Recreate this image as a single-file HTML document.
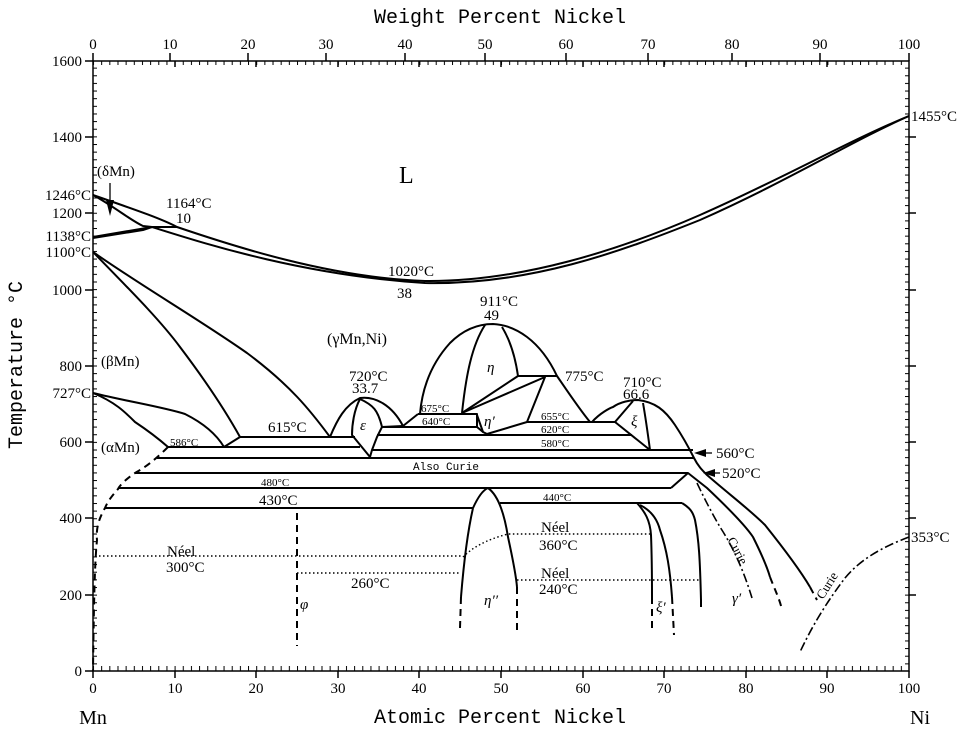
<!DOCTYPE html>
<html><head><meta charset="utf-8"><style>
html,body{margin:0;padding:0;background:#fff;}
svg{display:block;}
.s{font-family:"Liberation Serif",serif;fill:#000;}
.m{font-family:"Liberation Mono",monospace;fill:#000;}
</style></head><body>
<svg width="971" height="735" viewBox="0 0 971 735" xmlns="http://www.w3.org/2000/svg">
<defs>
<pattern id="tb" x="93" y="0" width="8.16" height="10" patternUnits="userSpaceOnUse"><line x1="0.5" y1="0" x2="0.5" y2="10" stroke="#000" stroke-width="1"/></pattern>
<pattern id="tl" x="0" y="60" width="10" height="7.6375" patternUnits="userSpaceOnUse"><line x1="0" y1="0.5" x2="10" y2="0.5" stroke="#000" stroke-width="1"/></pattern>
</defs>
<rect width="971" height="735" fill="#fff"/>
<rect x="93" y="61" width="816" height="610" fill="none" stroke="#000" stroke-width="1.5"/>
<rect x="93" y="666" width="816" height="5" fill="url(#tb)"/>
<rect x="93" y="61" width="816" height="4" fill="url(#tb)"/>
<rect x="93" y="61" width="4" height="610" fill="url(#tl)"/>
<rect x="905" y="61" width="4" height="610" fill="url(#tl)"/>
<g stroke="#000" stroke-width="1.5">
<line x1="93" y1="671" x2="93" y2="678"/><line x1="175" y1="671" x2="175" y2="678"/><line x1="256" y1="671" x2="256" y2="678"/><line x1="338" y1="671" x2="338" y2="678"/><line x1="419" y1="671" x2="419" y2="678"/><line x1="501" y1="671" x2="501" y2="678"/><line x1="583" y1="671" x2="583" y2="678"/><line x1="664" y1="671" x2="664" y2="678"/><line x1="746" y1="671" x2="746" y2="678"/><line x1="827" y1="671" x2="827" y2="678"/><line x1="909" y1="671" x2="909" y2="678"/>
<line x1="175" y1="61" x2="175" y2="67"/><line x1="256" y1="61" x2="256" y2="67"/><line x1="338" y1="61" x2="338" y2="67"/><line x1="419" y1="61" x2="419" y2="67"/><line x1="501" y1="61" x2="501" y2="67"/><line x1="583" y1="61" x2="583" y2="67"/><line x1="664" y1="61" x2="664" y2="67"/><line x1="746" y1="61" x2="746" y2="67"/><line x1="827" y1="61" x2="827" y2="67"/>
<line x1="93" y1="61" x2="93" y2="53"/><line x1="170" y1="61" x2="170" y2="53"/><line x1="248" y1="61" x2="248" y2="53"/><line x1="326" y1="61" x2="326" y2="53"/><line x1="405" y1="61" x2="405" y2="53"/><line x1="485" y1="61" x2="485" y2="53"/><line x1="566" y1="61" x2="566" y2="53"/><line x1="648" y1="61" x2="648" y2="53"/><line x1="732" y1="61" x2="732" y2="53"/><line x1="820" y1="61" x2="820" y2="53"/><line x1="909" y1="61" x2="909" y2="53"/>
<line x1="85" y1="61" x2="93" y2="61"/><line x1="85" y1="137" x2="93" y2="137"/><line x1="85" y1="213" x2="93" y2="213"/><line x1="85" y1="290" x2="93" y2="290"/><line x1="85" y1="366" x2="93" y2="366"/><line x1="85" y1="442" x2="93" y2="442"/><line x1="85" y1="518" x2="93" y2="518"/><line x1="85" y1="595" x2="93" y2="595"/><line x1="85" y1="671" x2="93" y2="671"/>
<line x1="909" y1="137" x2="916" y2="137"/><line x1="909" y1="213" x2="916" y2="213"/><line x1="909" y1="290" x2="916" y2="290"/><line x1="909" y1="366" x2="916" y2="366"/><line x1="909" y1="442" x2="916" y2="442"/><line x1="909" y1="518" x2="916" y2="518"/><line x1="909" y1="595" x2="916" y2="595"/>
</g>

<g fill="none" stroke="#000" stroke-width="2" stroke-linejoin="round">
<path d="M93,195 C130,208 160,218 177,227 C230,245 330,278 425,281 C520,282 620,250 700,215 C780,180 850,140 909,116"/>
<path d="M152,227 C200,242 300,275 425,283 C530,285 620,252 700,220 C790,180 850,142 909,116"/>
<path d="M93,195 C115,207 130,220 143,226 L152,227"/>
<path d="M152,227 L177,227"/>
<path d="M93,237 L152,227"/><path d="M93,238 L143,230 L152,227"/>
<path d="M93,252 C130,290 160,320 180,347 C205,380 225,410 240,437"/>
<path d="M93,252 C140,285 200,320 247,353 C290,385 310,410 330,437"/>
<path d="M93,393 C115,402 125,412 135,422 C150,432 160,440 168,447"/>
<path d="M93,393 C130,402 163,407 185,414 C207,425 218,437 224,447 L240,437"/>
<path d="M240,437 L355,437"/>
<path d="M168,447 L360,447"/>
<path d="M157,458 L694,458"/>
<path d="M135,473 L688,473"/>
<path d="M118,488 L671,488"/>
<path d="M105,508 L473,508"/>
<path d="M500,503 L682,503"/>
<path d="M372,450 L693,450"/>
<path d="M377,435 L632,435"/>
<path d="M382,427 L477,427"/><path d="M418,414 L477,414 L477,427 L483,432"/>
<path d="M527,422 L615,422"/>
<path d="M518,376 L557,376"/>
<path d="M330,437 C337,420 345,405 360,398 C375,396 392,405 403,426 L418,414"/>
<path d="M403,426 L382,427"/>
<path d="M360,399 C354,410 352,425 352,435 L370,457"/>
<path d="M360,399 C373,405 378,410 382,427 L377,437 L372,450 L370,457"/>
<path d="M420,414 C422,390 430,365 450,343 C465,328 480,324 493,324 C515,325 540,340 557,376 C570,395 580,410 590,422"/>
<path d="M485,325 C472,345 466,375 462,413"/>
<path d="M502,327 C510,340 515,355 518,376 L462,413"/>
<path d="M462,413 L545,377 L527,422 L487,434 L483,432 L477,415"/>
<path d="M592,422 C600,413 610,408 613,407 C620,402 630,400 638,400 C655,402 665,410 675,425 C685,440 690,450 694,458 C698,466 702,470 707,475 C730,495 750,510 765,525 C785,550 800,570 810,587"/>
<path d="M615,422 L633,401 M643,403 C646,420 648,435 650,450 M615,422 L650,450"/>
<path d="M671,488 L688,473 L707,488 C725,505 745,525 753,537 C762,555 768,570 770,577"/>
<path d="M682,503 C690,508 693,512 695,520 C699,540 700,560 701,600"/>
<path d="M637,503 C645,512 650,520 651,535 C652,560 652,580 652,597"/>
<path d="M640,505 C650,510 657,518 660,530 C667,550 670,570 672,597"/>
<path d="M473,508 C478,497 483,490 488,488 C495,493 503,505 508,537 C513,560 516,575 517,587"/>
<path d="M473,508 C468,530 464,560 461,597"/>
</g>
<g fill="none" stroke="#000" stroke-width="2" stroke-dasharray="7,5">
<path d="M168,447 C150,465 140,470 135,473 C125,480 120,485 118,489 C110,498 107,503 105,508 C98,520 96,530 97,540 C95,560 94,590 93,671"/>
<path d="M297,513 L297,646"/>
<path d="M461,597 L460,628"/>
<path d="M517,587 L517,630"/>
<path d="M652,597 L652,633"/>
<path d="M672,597 L674,635"/>
<path d="M701,600 L701,612"/>
<path d="M770,577 C775,590 780,600 782,610"/>
<path d="M810,587 L817,600"/>
</g>
<g fill="none" stroke="#000" stroke-width="1.6" stroke-dasharray="9,3,2,3">
<path d="M697,483 C705,500 713,515 720,527 C735,550 745,575 752,598"/>
<path d="M909,537 C880,548 860,560 845,578 C830,598 815,620 800,652"/>
</g>
<g fill="none" stroke="#000" stroke-width="1.4" stroke-dasharray="1.5,2.5">
<path d="M95,556 L462,556"/>
<path d="M297,573 L461,573"/>
<path d="M463,557 C472,548 485,540 508,534 L650,534"/>
<path d="M517,580 L700,580"/>
</g>
<line x1="110" y1="183" x2="110" y2="210" stroke="#000" stroke-width="1.3"/>
<polygon points="106,200 114,200 110,216" fill="#000"/>
<line x1="700" y1="453" x2="712" y2="453" stroke="#000" stroke-width="1.3"/>
<polygon points="694,453 706,449 706,457" fill="#000"/>
<line x1="708" y1="473" x2="720" y2="473" stroke="#000" stroke-width="1.3"/>
<polygon points="703,473 715,469 715,477" fill="#000"/>

<text class="m" x="500" y="23" font-size="20" text-anchor="middle">Weight Percent Nickel</text>
<text class="m" x="500" y="723" font-size="20" text-anchor="middle">Atomic Percent Nickel</text>
<text class="m" transform="translate(22,365) rotate(-90)" font-size="20" text-anchor="middle">Temperature °C</text>
<text class="s" x="93" y="724" font-size="20" text-anchor="middle">Mn</text>
<text class="s" x="920" y="724" font-size="20" text-anchor="middle">Ni</text>
<g class="s" font-size="15" text-anchor="middle">
<text x="93" y="49">0</text><text x="170" y="49">10</text><text x="248" y="49">20</text><text x="326" y="49">30</text><text x="405" y="49">40</text><text x="485" y="49">50</text><text x="566" y="49">60</text><text x="648" y="49">70</text><text x="732" y="49">80</text><text x="820" y="49">90</text><text x="909" y="49">100</text>
<text x="93" y="693">0</text><text x="175" y="693">10</text><text x="256" y="693">20</text><text x="338" y="693">30</text><text x="419" y="693">40</text><text x="501" y="693">50</text><text x="583" y="693">60</text><text x="664" y="693">70</text><text x="746" y="693">80</text><text x="827" y="693">90</text><text x="909" y="693">100</text>
</g>
<g class="s" font-size="15" text-anchor="end">
<text x="82" y="66">1600</text><text x="82" y="142">1400</text><text x="82" y="218">1200</text><text x="82" y="295">1000</text><text x="82" y="371">800</text><text x="82" y="447">600</text><text x="82" y="523">400</text><text x="82" y="600">200</text><text x="82" y="676">0</text>
<text x="91" y="200">1246°C</text><text x="91" y="241">1138°C</text><text x="91" y="257">1100°C</text><text x="91" y="398">727°C</text>
</g>
<g class="s" font-size="15">
<text x="911" y="121">1455°C</text><text x="911" y="542">353°C</text>
<text x="97" y="176">(δMn)</text>
<text x="166" y="208">1164°C</text><text x="176" y="223">10</text>
<text x="388" y="276">1020°C</text><text x="397" y="298">38</text>
<text x="480" y="306">911°C</text><text x="484" y="320">49</text>
<text x="327" y="344" font-size="16">(γMn,Ni)</text>
<text x="101" y="366">(βMn)</text>
<text x="349" y="381">720°C</text><text x="352" y="393">33.7</text>
<text x="623" y="387">710°C</text><text x="623" y="399">66.6</text>
<text x="565" y="381">775°C</text>
<text x="101" y="452">(αMn)</text>
<text x="268" y="432">615°C</text>
<text x="259" y="505">430°C</text>
<text x="167" y="556">Néel</text><text x="166" y="572">300°C</text>
<text x="351" y="588">260°C</text>
<text x="541" y="532">Néel</text><text x="539" y="550">360°C</text>
<text x="541" y="578">Néel</text><text x="539" y="594">240°C</text>
<text x="716" y="458">560°C</text><text x="722" y="478">520°C</text>
<text x="399" y="183" font-size="24">L</text>
<text x="487" y="372" font-style="italic">η</text>
<text x="360" y="430" font-style="italic">ε</text>
<text x="484" y="426" font-style="italic">η′</text>
<text x="631" y="426" font-style="italic">ξ</text>
<text x="300" y="609" font-style="italic">φ</text>
<text x="484" y="605" font-style="italic">η′′</text>
<text x="656" y="612" font-style="italic">ξ′</text>
<text x="732" y="603" font-style="italic">γ′</text>
</g>
<g class="s" font-size="11">
<text x="170" y="446">586°C</text>
<text x="421" y="412">675°C</text>
<text x="422" y="425">640°C</text>
<text x="541" y="420">655°C</text><text x="541" y="433">620°C</text><text x="541" y="447">580°C</text>
<text x="261" y="486">480°C</text>
<text x="543" y="501">440°C</text>
</g>
<text class="m" x="413" y="470" font-size="11">Also Curie</text>
<text class="s" font-size="13" transform="translate(727,540) rotate(62)">Curie</text>
<text class="s" font-size="13" transform="translate(823,600) rotate(-58)">Curie</text>
</svg>
</body></html>
